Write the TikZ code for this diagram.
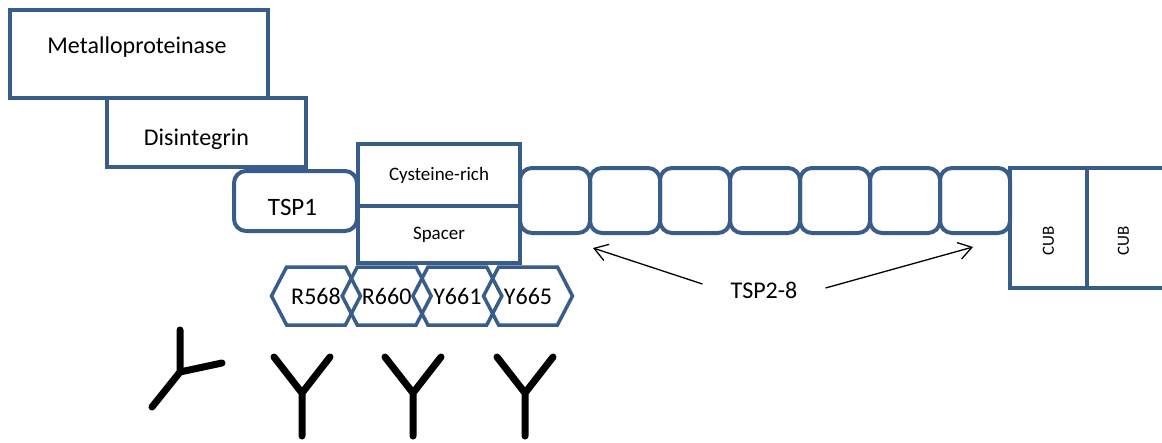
\documentclass[tikz,border=0pt]{standalone}
\usepackage{fontspec}
\setmainfont{Carlito}
\usetikzlibrary{arrows.meta}
\usetikzlibrary{shapes.symbols}

\definecolor{domblue}{RGB}{56,93,138}
\newcommand{\fsz}[1]{\fontsize{#1}{#1}\selectfont}

\tikzset{
  dom/.style={draw=domblue, line width=4pt, inner sep=0pt, outer sep=0pt, anchor=north west},
  tspbox/.style={dom, rounded corners=12pt, minimum width=70pt, minimum height=65pt},
  hexres/.style={draw=domblue, line width=3.5pt, signal, signal to=east and west, signal pointer angle=125,
    minimum width=89pt, minimum height=58pt, inner sep=0pt, font=\fsz{24}},
  antibody/.style={line width=7pt, line cap=round, line join=round},
  arr/.style={-{Straight Barb[length=13pt,width=17pt]}, line width=1.3pt}
}

\begin{document}
\begin{tikzpicture}[x=1pt, y=-1pt]
			\useasboundingbox (0,0) rectangle (1162,442);
			% domaines N-terminaux
			\node [dom, minimum width=258pt, minimum height=88pt, label={[font=\fsz{24}, xshift=-2pt, yshift=7pt]center:Metalloproteinase}] (metallo) at (10,10) {};
			\node [dom, minimum width=199pt, minimum height=69pt, label={[font=\fsz{24}, xshift=-10pt, yshift=-7pt]center:Disintegrin}] (disint) at (107,98) {};
			\node [dom, rounded corners=12pt, minimum width=123pt, minimum height=60pt, label={[font=\fsz{25}, xshift=-3pt, yshift=-6pt]center:TSP1}] (tsp1) at (234,171) {};
			\node [dom, minimum width=162pt, minimum height=62pt, font=\fsz{19}] (cys) at (358,144) {Cysteine-rich};
			\node [dom, minimum width=162pt, minimum height=57pt, font=\fsz{19}] (spacer) at (358,206) {Spacer};
			% TSP2-8
			\foreach \i in {0,...,6}
				\node [tspbox] (tsp\i) at (520+70*\i,168) {};
			% CUB
			\node [dom, minimum width=77pt, minimum height=120pt] (cub1) at (1010,168) {};
			\node [dom, minimum width=77pt, minimum height=120pt] (cub2) at (1087,168) {};
			\node [font=\fsz{17}, rotate=90] (cub1t) at ([yshift=-13pt]cub1.center) {CUB};
			\node [font=\fsz{17}, rotate=90] (cub2t) at ([xshift=-2pt, yshift=-13pt]cub2.center) {CUB};
			% residus
			\foreach \r [count=\i from 0] in {R568,R660,Y661,Y665}
				\node [hexres] (hex\i) at (316+70.67*\i,296) {\r};
			% fleches TSP2-8
			\node [font=\fsz{24}, inner xsep=28pt] (tsp28) at (764,290) {TSP2-8};
			\coordinate (tipL) at (593,248);
			\coordinate (tipR) at (973,247);
			\draw [arr] ([yshift=6pt]tsp28.west) -- (tipL);
			\draw [arr] ([yshift=2pt]tsp28.east) -- (tipR);
			% anticorps
			\draw [antibody] (180,330) -- (180,372) -- (222,363) (180,372) -- (152,407);
			\foreach \x in {302,413,525}
				\draw [antibody] (\x-28,357) -- (\x,393) -- (\x+28,357) (\x,393) -- (\x,436);
		\end{tikzpicture}
\end{document}
